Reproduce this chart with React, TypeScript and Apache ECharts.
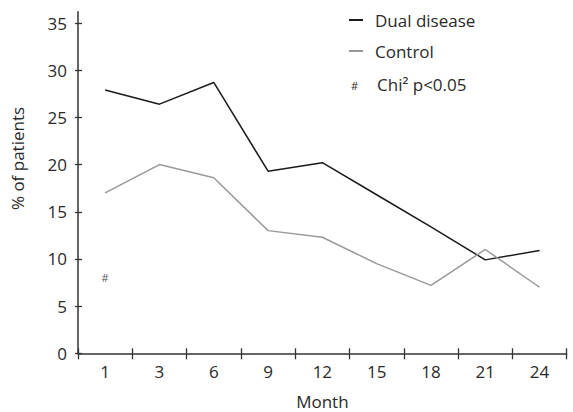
import React, { useEffect, useRef } from "react";
import * as echarts from "echarts";

const months = ["1", "3", "6", "9", "12", "15", "18", "21", "24"];
const dualDisease = [27.9, 26.4, 28.7, 19.3, 20.2, 16.8, 13.4, 9.9, 10.9];
const control = [17.0, 20.0, 18.6, 13.0, 12.3, 9.5, 7.2, 11.0, 7.0];
const yTicks = [0, 5, 10, 15, 20, 25, 30, 35];
const sigMarks: [string, number][] = [["1", 8.0]];

const FONT = "'Open Sans', 'Liberation Sans', sans-serif";
const TXT = "#2a2a2a";

export default function App() {
  const ref = useRef<HTMLDivElement>(null);
  useEffect(() => {
    document.body.style.margin = "0";
    if (!ref.current) return;
    const chart = echarts.init(ref.current, null, { renderer: "svg" });
    const yMax = 36.2;
    chart.setOption({
      animation: false,
      backgroundColor: "#ffffff",
      textStyle: { fontFamily: FONT },
      grid: { left: 78, right: 6.3, top: 11.7, bottom: 58.7, containLabel: false, outerBoundsMode: "none" },
      legend: {
        data: ["Dual disease", "Control"],
        orient: "vertical",
        left: 344,
        top: 5,
        itemWidth: 14,
        itemHeight: 2,
        itemGap: 11,
        icon: "rect",
        textStyle: { fontSize: 17, color: TXT, fontFamily: FONT, lineHeight: 20, padding: [0, 0, 0, 7] },
      },
      graphic: [
        { type: "text", left: 351, top: 80, style: { text: "#", fontSize: 11, fill: TXT, fontFamily: FONT } },
        { type: "text", left: 377, top: 76, style: { text: "Chi² p<0.05", fontSize: 17, fill: TXT, fontFamily: FONT } },
      ],
      xAxis: [
        {
          type: "category",
          data: months,
          boundaryGap: true,
          name: "Month",
          nameLocation: "middle",
          nameGap: 40,
          nameTextStyle: { fontSize: 17, color: TXT, fontFamily: FONT },
          axisLine: { show: true, lineStyle: { color: "#333", width: 1.5 } },
          axisTick: { show: true, length: 6, lineStyle: { color: "#333", width: 1.3 } },
          axisLabel: { margin: 10, fontSize: 17, color: TXT, fontFamily: FONT },
          splitLine: { show: false },
        },
        {
          type: "category",
          data: months,
          boundaryGap: true,
          position: "bottom",
          axisLine: { show: false },
          axisTick: { show: true, inside: true, length: 5, lineStyle: { color: "#333", width: 1.3 } },
          axisLabel: { show: false },
          splitLine: { show: false },
        },
      ],
      yAxis: [
        {
          type: "value",
          min: 0,
          max: yMax,
          name: "% of patients",
          nameLocation: "middle",
          nameGap: 52,
          nameTextStyle: { fontSize: 17, color: TXT, fontFamily: FONT, padding: [0, 0, 0, 48] },
          axisLine: { show: true, lineStyle: { color: "#333", width: 1.5 } },
          axisTick: { show: true, length: 3, customValues: yTicks, lineStyle: { color: "#333", width: 1.3 } },
          axisLabel: { margin: 11, fontSize: 17, color: TXT, fontFamily: FONT, customValues: yTicks },
          splitLine: { show: false },
        },
        {
          type: "value",
          min: 0,
          max: yMax,
          position: "left",
          axisLine: { show: false },
          axisTick: { show: true, inside: true, length: 4, customValues: yTicks, lineStyle: { color: "#333", width: 1.3 } },
          axisLabel: { show: false },
          splitLine: { show: false },
        },
      ],
      series: [
        {
          name: "Dual disease",
          type: "line",
          data: dualDisease,
          symbol: "none",
          itemStyle: { color: "#1a1a1a" },
          lineStyle: { color: "#1a1a1a", width: 1.5 },
        },
        {
          name: "Control",
          type: "line",
          data: control,
          symbol: "none",
          itemStyle: { color: "#999999" },
          lineStyle: { color: "#999999", width: 1.5 },
        },
        {
          name: "sig",
          type: "scatter",
          data: sigMarks,
          symbolSize: 0,
          label: { show: true, formatter: "#", position: "inside", fontSize: 11, color: TXT, fontFamily: FONT },
          silent: true,
        },
      ],
    });
    return () => chart.dispose();
  }, []);
  return <div ref={ref} style={{ width: 573, height: 412 }} />;
}
